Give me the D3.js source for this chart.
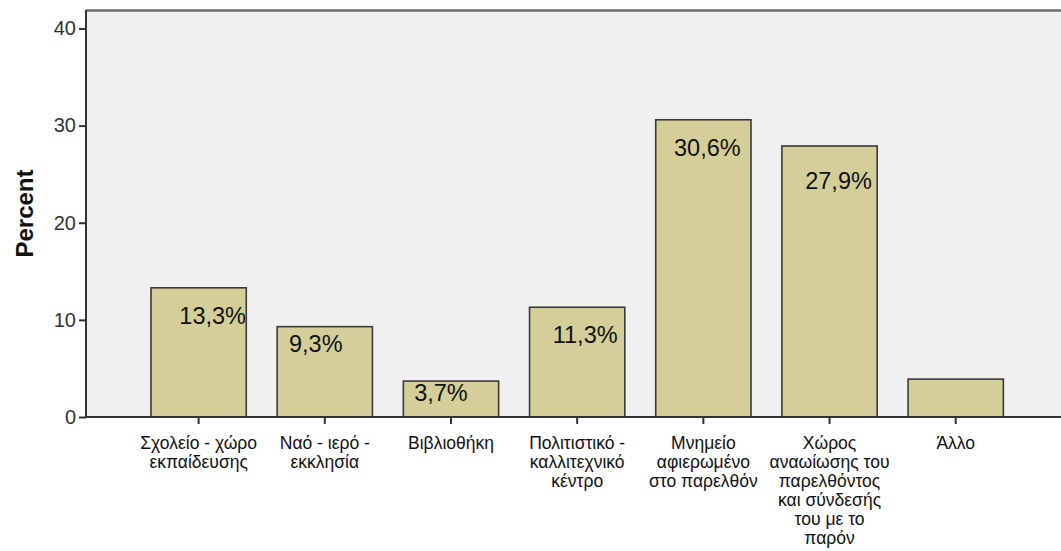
<!DOCTYPE html>
<html>
<head>
<meta charset="utf-8">
<script src="https://cdn.jsdelivr.net/npm/d3@7"></script>
<style>
  body { margin: 0; background: #fff; }
  text { font-family: Arial, "Liberation Sans", sans-serif; }
</style>
</head>
<body>
<div id="chart"></div>
<script>
// categories (multi-line labels) and percent values
const categories = [
  ["Σχολείο - χώρο", "εκπαίδευσης"],
  ["Ναό - ιερό -", "εκκλησία"],
  ["Βιβλιοθήκη"],
  ["Πολιτιστικό -", "καλλιτεχνικό", "κέντρο"],
  ["Μνημείο", "αφιερωμένο", "στο παρελθόν"],
  ["Χώρος", "αναωίωσης του", "παρελθόντος", "και σύνδεσής", "του με το", "παρόν"],
  ["Άλλο"]
];
const values = [13.3, 9.3, 3.7, 11.3, 30.6, 27.9, 3.9];
const valueLabels = ["13,3%", "9,3%", "3,7%", "11,3%", "30,6%", "27,9%", ""];
const yTicks = [0, 10, 20, 30, 40];

const width = 1061, height = 551;
const margin = {top: 10, right: 0, bottom: 134, left: 86};

// SPSS puts the percent labels a bit off-centre, nudge them like the original
const labelNudge = [[14, 36], [-9, 25], [-10, 20], [8, 36], [4, 36], [9, 43], [0, 0]];

const svg = d3.select("#chart").append("svg")
  .attr("width", width)
  .attr("height", height);

const innerW = width - margin.left - margin.right;
const innerH = height - margin.top - margin.bottom;

const x = d3.scaleBand()
  .domain(d3.range(categories.length))
  .range([0, innerW])
  .paddingInner(0.245)
  .paddingOuter(0.486)
  .align(0.53);

const y = d3.scaleLinear().domain([0, 41.9]).range([innerH, 0]);

const area = svg.append("g").attr("transform", "translate(" + margin.left + "," + margin.top + ")");

// plot background
area.append("rect")
  .attr("width", innerW)
  .attr("height", innerH)
  .attr("fill", "#f0f0f0");

area.append("line")
  .attr("x1", 0).attr("x2", innerW)
  .attr("y1", 0.5).attr("y2", 0.5)
  .attr("stroke", "#6e6e6e")
  .attr("stroke-width", 2.5);

// bars
area.selectAll(".bar")
  .data(values)
  .enter().append("rect")
  .attr("class", "bar")
  .attr("x", (d, i) => x(i))
  .attr("y", d => y(d))
  .attr("width", x.bandwidth())
  .attr("height", d => innerH - y(d))
  .attr("fill", "#d4cf99")
  .attr("stroke", "#3a3a3a")
  .attr("stroke-width", 1.6);

// value labels
area.selectAll(".val")
  .data(values)
  .enter().append("text")
  .attr("class", "val")
  .attr("x", (d, i) => x(i) + x.bandwidth() / 2 + labelNudge[i][0])
  .attr("y", (d, i) => y(d) + labelNudge[i][1])
  .attr("text-anchor", "middle")
  .attr("font-size", 23.5)
  .attr("fill", "#111")
  .text((d, i) => valueLabels[i]);

// y axis
const yAxis = area.append("g")
  .call(d3.axisLeft(y).tickValues(yTicks).tickSize(7).tickPadding(3));
yAxis.select(".domain").attr("stroke", "#333").attr("stroke-width", 2).attr("d", "M0," + innerH + "V0");
yAxis.selectAll(".tick line").attr("stroke", "#333").attr("stroke-width", 2);
yAxis.selectAll(".tick text").attr("font-size", 20).attr("fill", "#333")
  .style("font-family", "Arial, 'Liberation Sans', sans-serif");

// x axis
const xAxis = area.append("g")
  .attr("transform", "translate(0," + innerH + ")")
  .call(d3.axisBottom(x).tickSize(7).tickFormat(""));
xAxis.select(".domain").attr("stroke", "#333").attr("stroke-width", 2).attr("d", "M0,0H" + innerW);
xAxis.selectAll(".tick line").attr("stroke", "#333").attr("stroke-width", 2);

// multi-line category labels
xAxis.selectAll(".tick").each(function(d) {
  const t = d3.select(this).append("text")
    .attr("text-anchor", "middle")
    .attr("fill", "#111")
    .attr("font-size", 17.5)
    .style("font-family", "Arial, 'Liberation Sans', sans-serif");
  categories[d].forEach((line, k) => {
    t.append("tspan").attr("x", 0).attr("y", 32 + k * 19).text(line);
  });
});

// y axis title
svg.append("text")
  .attr("transform", "translate(" + 33 + "," + (margin.top + innerH / 2) + ") rotate(-90)")
  .attr("text-anchor", "middle")
  .attr("font-size", 24)
  .attr("font-weight", "bold")
  .attr("fill", "#111")
  .text("Percent");
</script>
</body>
</html>
